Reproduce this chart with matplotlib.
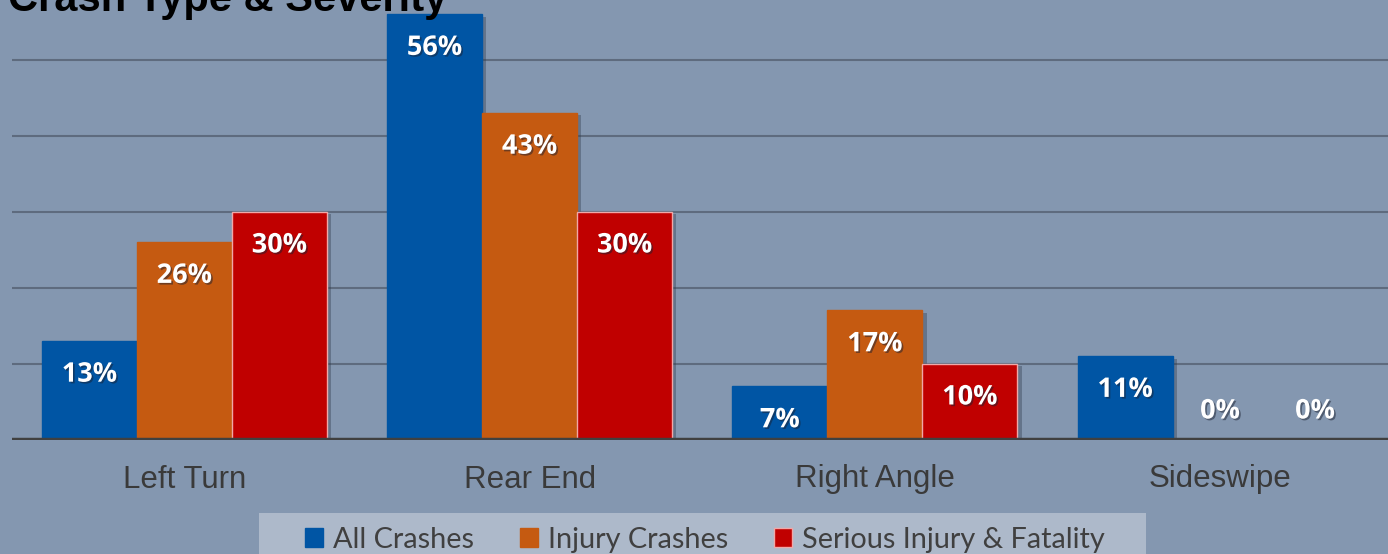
import numpy as np
import matplotlib
matplotlib.use("Agg")
import matplotlib.pyplot as plt
import matplotlib.patheffects as pe
from matplotlib.patches import Patch, Rectangle

categories = ["Left Turn", "Rear End", "Right Angle", "Sideswipe"]
series_names = ["All Crashes", "Injury Crashes", "Serious Injury & Fatality"]
all_crashes = [13, 56, 7, 11]
injury_crashes = [26, 43, 17, 0]
serious_fatal = [30, 30, 10, 0]
title = "Crash Type & Severity"

colors = ["#0055A4", "#C55A11", "#C00000"]
edges = ["#0055A4", "#C55A11", "#F0A8A8"]
bg = "#8497B0"

W, H = 1388, 554
fig = plt.figure(figsize=(W / 100, H / 100), dpi=100)
fig.patch.set_facecolor(bg)

spacing = 345.2
ax_left = 184.5 - spacing / 2
base_px = 439.5
ax = fig.add_axes([ax_left / W, (H - base_px) / H, 4 * spacing / W, 456 / H])
ax.set_facecolor(bg)
ax.set_xlim(-0.5, 3.5)
ax.set_ylim(0, 60)

for y in [10, 20, 30, 40, 50]:
    ax.axhline(y, color="#5E6B7E", lw=1.5, zorder=1)
ax.axhline(0, color="#404040", lw=3.2, zorder=4)

x = np.arange(len(categories))
bw = 95 / spacing
series = [all_crashes, injury_crashes, serious_fatal]
shadow = [pe.withSimplePatchShadow(offset=(3, -2), shadow_rgbFace="#2a3545", alpha=0.35)]
for i, (vals, c, e) in enumerate(zip(series, colors, edges)):
    xs = x + (i - 1) * bw
    bars = ax.bar(xs, vals, width=bw, color=c, edgecolor=e, linewidth=1.0, zorder=3 + i * 0.01)
    for b in bars:
        b.set_path_effects(shadow)
    for xi, v in zip(xs, vals):
        off = -34 if v > 0 else 28
        ax.annotate(f"{v}%", xy=(xi, v), xytext=(0, off), textcoords="offset pixels",
                    ha="center", va="center", color="white", fontsize=19.5,
                    fontweight="bold", family="Open Sans", zorder=6,
                    path_effects=[pe.withSimplePatchShadow(offset=(1.2, -1.2), shadow_rgbFace="#1a2030", alpha=0.5)])

ax.set_xticks(x)
ax.set_xticklabels(categories, fontsize=22.5, color="#3A3A3A", family="Liberation Sans")
ax.tick_params(axis="x", length=0, pad=18)
ax.set_yticks([])
for s in ax.spines.values():
    s.set_visible(False)

fig.text(8 / W, 1 - 11 / H, title, fontsize=30, fontweight="bold", color="black",
         family="Liberation Sans", ha="left", va="baseline")

# legend background box
fig.patches.append(Rectangle((259 / W, 0), 887 / W, (H - 513) / H, transform=fig.transFigure,
                             facecolor="#ADB9CA", edgecolor="none", zorder=0))

fs = 20.8
fpx = fs * 100 / 72
handles = [Patch(facecolor=c, edgecolor=e, linewidth=1.0) for c, e in zip(colors, edges)]
leg = fig.legend(handles, series_names, loc="center left", ncol=3,
                 bbox_to_anchor=(305 / W, 1 - 540 / H),
                 frameon=False, prop={"family": "Lato", "size": fs},
                 handlelength=18 / fpx, handleheight=18 / fpx, handletextpad=10 / fpx,
                 borderpad=0, borderaxespad=0, columnspacing=46 / fpx)
for t in leg.get_texts():
    t.set_color("#404040")

fig.savefig("out.png", dpi=100, facecolor=bg)
